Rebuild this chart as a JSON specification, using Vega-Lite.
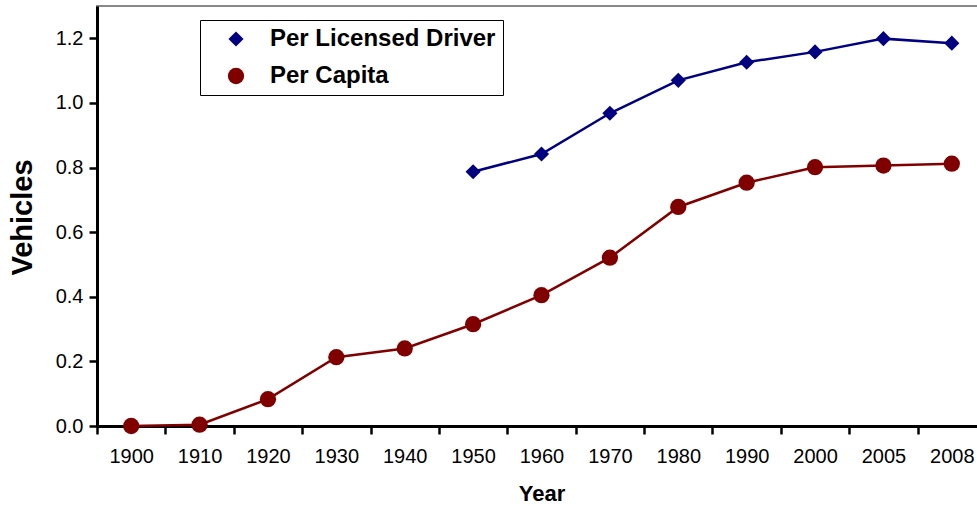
{
  "$schema": "https://vega.github.io/schema/vega-lite/v6.json",
  "width": 889,
  "height": 420,
  "autosize": {"type": "none"},
  "padding": {"left": 97, "top": 6, "right": 5, "bottom": 80},
  "background": "white",
  "config": {
    "font": "Liberation Sans",
    "view": {"stroke": "#888888", "strokeWidth": 2}
  },
  "data": {
    "values": [
      {"year": "1900", "series": "Per Capita", "value": 0.0},
      {"year": "1910", "series": "Per Capita", "value": 0.004},
      {"year": "1920", "series": "Per Capita", "value": 0.083},
      {"year": "1930", "series": "Per Capita", "value": 0.213},
      {"year": "1940", "series": "Per Capita", "value": 0.240},
      {"year": "1950", "series": "Per Capita", "value": 0.315},
      {"year": "1960", "series": "Per Capita", "value": 0.405},
      {"year": "1970", "series": "Per Capita", "value": 0.521},
      {"year": "1980", "series": "Per Capita", "value": 0.678},
      {"year": "1990", "series": "Per Capita", "value": 0.753},
      {"year": "2000", "series": "Per Capita", "value": 0.801},
      {"year": "2005", "series": "Per Capita", "value": 0.806},
      {"year": "2008", "series": "Per Capita", "value": 0.812},
      {"year": "1950", "series": "Per Licensed Driver", "value": 0.787},
      {"year": "1960", "series": "Per Licensed Driver", "value": 0.842},
      {"year": "1970", "series": "Per Licensed Driver", "value": 0.968},
      {"year": "1980", "series": "Per Licensed Driver", "value": 1.070},
      {"year": "1990", "series": "Per Licensed Driver", "value": 1.126},
      {"year": "2000", "series": "Per Licensed Driver", "value": 1.158},
      {"year": "2005", "series": "Per Licensed Driver", "value": 1.199},
      {"year": "2008", "series": "Per Licensed Driver", "value": 1.185}
    ]
  },
  "encoding": {
    "x": {
      "field": "year",
      "type": "ordinal",
      "scale": {
        "type": "band",
        "paddingInner": 0,
        "paddingOuter": 0,
        "domain": ["1900", "1910", "1920", "1930", "1940", "1950", "1960", "1970", "1980", "1990", "2000", "2005", "2008"]
      },
      "axis": {
        "title": "Year",
        "labelAngle": 0,
        "tickBand": "extent",
        "grid": false,
        "domainColor": "black",
        "domainWidth": 3,
        "tickColor": "black",
        "tickWidth": 2.5,
        "tickSize": 8,
        "labelFont": "Liberation Sans",
        "labelFontSize": 20,
        "labelColor": "black",
        "labelPadding": 12,
        "titleFont": "Liberation Sans",
        "titleFontSize": 22,
        "titleFontWeight": "bold",
        "titleColor": "black",
        "titleY": 57,
        "titleBaseline": "top"
      }
    },
    "y": {
      "field": "value",
      "type": "quantitative",
      "scale": {"domain": [0, 1.3], "nice": false},
      "axis": {
        "title": "Vehicles",
        "values": [0, 0.2, 0.4, 0.6, 0.8, 1.0, 1.2],
        "format": ".1f",
        "grid": false,
        "domainColor": "black",
        "domainWidth": 3,
        "tickColor": "black",
        "tickWidth": 2.5,
        "tickSize": 8,
        "labelFont": "Liberation Sans",
        "labelFontSize": 20,
        "labelColor": "black",
        "labelPadding": 6,
        "titleFont": "Liberation Sans",
        "titleFontSize": 29,
        "titleFontWeight": "bold",
        "titleColor": "black",
        "titleX": -75,
        "titleY": 211,
        "titleAngle": 270,
        "titleAlign": "center",
        "titleBaseline": "middle"
      }
    },
    "color": {
      "field": "series",
      "type": "nominal",
      "scale": {
        "domain": ["Per Licensed Driver", "Per Capita"],
        "range": ["#000080", "#800000"]
      },
      "legend": {
        "title": null,
        "orient": "none",
        "legendX": 103,
        "legendY": 14,
        "direction": "vertical",
        "strokeColor": "black",
        "fillColor": "white",
        "padding": 7,
        "rowPadding": 13,
        "symbolSize": 400,
        "symbolOffset": 17,
        "labelOffset": 22,
        "symbolStrokeWidth": 0,
        "labelFont": "Liberation Sans",
        "labelFontSize": 24,
        "labelFontWeight": "bold",
        "labelColor": "black",
        "labelLimit": 400
      }
    }
  },
  "layer": [
    {"mark": {"type": "line", "strokeWidth": 2.5}},
    {
      "mark": {"type": "point", "filled": true, "opacity": 1},
      "encoding": {
        "shape": {
          "field": "series",
          "type": "nominal",
          "scale": {"domain": ["Per Licensed Driver", "Per Capita"], "range": ["diamond", "circle"]},
          "legend": null
        },
        "size": {
          "field": "series",
          "type": "nominal",
          "scale": {"domain": ["Per Licensed Driver", "Per Capita"], "range": [230, 265]},
          "legend": null
        }
      }
    }
  ]
}
